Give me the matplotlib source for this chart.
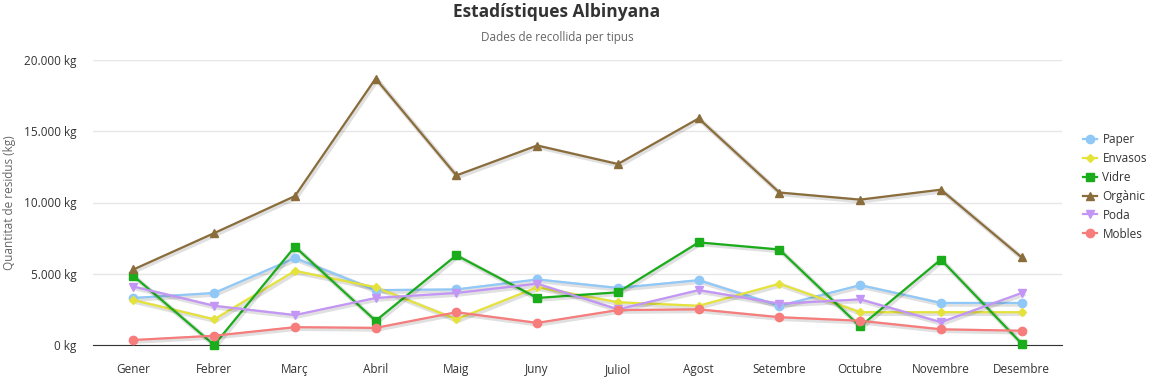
import matplotlib
matplotlib.use('Agg')
import matplotlib.pyplot as plt
import matplotlib.patheffects as pe
from matplotlib.ticker import FuncFormatter

plt.rcParams['font.family'] = ['Open Sans', 'DejaVu Sans']

mesos = ['Gener', 'Febrer', 'Març', 'Abril', 'Maig', 'Juny', 'Juliol',
         'Agost', 'Setembre', 'Octubre', 'Novembre', 'Desembre']

paper = [3300, 3650, 6100, 3850, 3900, 4600, 4000, 4550, 2750, 4200, 2950, 2950]
envasos = [3150, 1800, 5200, 4050, 1800, 4050, 3000, 2750, 4300, 2300, 2300, 2300]
vidre = [4850, 0, 6900, 1700, 6300, 3300, 3700, 7200, 6700, 1300, 6000, 100]
organic = [5300, 7850, 10450, 18700, 11900, 14000, 12700, 15900, 10700, 10200, 10900, 6150]
poda = [4100, 2750, 2100, 3300, 3650, 4300, 2500, 3850, 2900, 3200, 1600, 3650]
mobles = [350, 650, 1250, 1200, 2300, 1550, 2450, 2500, 1950, 1700, 1100, 1000]

series = [
    ('Paper', paper, '#90c8f8', 'o', 6),
    ('Envasos', envasos, '#e5e33b', 'D', 4.5),
    ('Vidre', vidre, '#1aac1a', 's', 5.5),
    ('Orgànic', organic, '#8a6d3b', '^', 6),
    ('Poda', poda, '#c396f5', 'v', 6),
    ('Mobles', mobles, '#f77c7c', 'o', 6),
]

fig = plt.figure(figsize=(11.57, 3.78), dpi=100)
ax = fig.add_axes([93 / 1157, 1 - 345 / 378, 969 / 1157, 285 / 378])

x = list(range(len(mesos)))
shadow = [pe.SimpleLineShadow(offset=(1, -1), shadow_color='black', alpha=0.12, linewidth=3.5),
          pe.Normal()]
for name, vals, col, mk, ms in series:
    ax.plot(x, vals, color=col, linewidth=1.6, path_effects=shadow,
            clip_on=False, zorder=3)
    ax.plot(x, vals, color=col, marker=mk, markersize=ms, linestyle='none',
            clip_on=False, zorder=4)
    # legend proxy
    ax.plot([], [], color=col, marker=mk, markersize=ms, linewidth=1.6, label=name)

ax.set_xlim(-0.5, 11.5)
ax.set_ylim(0, 20000)
ax.set_yticks([0, 5000, 10000, 15000, 20000])
ax.yaxis.set_major_formatter(FuncFormatter(lambda v, p: f'{int(v):,} kg'.replace(',', '.')))
ax.set_xticks(x)
ax.set_xticklabels(mesos)
ax.grid(axis='y', color='#e6e6e6', linewidth=1)
ax.set_axisbelow(True)
for s in ['top', 'right', 'left']:
    ax.spines[s].set_visible(False)
ax.spines['bottom'].set_color('#333333')
ax.tick_params(axis='both', length=0, labelsize=8.5, colors='#333333')
ax.tick_params(axis='x', pad=13)
ax.tick_params(axis='y', pad=12)

fig.text(10 / 1157, 1 - 203 / 378, 'Quantitat de residus (kg)', rotation=90,
         ha='center', va='center', fontsize=8.5, color='#666666')

fig.text(557 / 1157, 1 - 12 / 378, 'Estadístiques Albinyana', ha='center', va='center',
         fontsize=12.5, fontweight='bold', color='#333333')
fig.text(557 / 1157, 1 - 37 / 378, 'Dades de recollida per tipus', ha='center', va='center',
         fontsize=8.5, color='#666666')

leg = fig.legend(loc='upper left', bbox_to_anchor=(1083 / 1157, 1 - 133 / 378),
                 frameon=False, fontsize=8.5, handlelength=1.2, labelspacing=0.5,
                 handletextpad=0.45, borderaxespad=0, borderpad=0)
for t in leg.get_texts():
    t.set_color('#333333')

fig.savefig('out.png', dpi=100)
